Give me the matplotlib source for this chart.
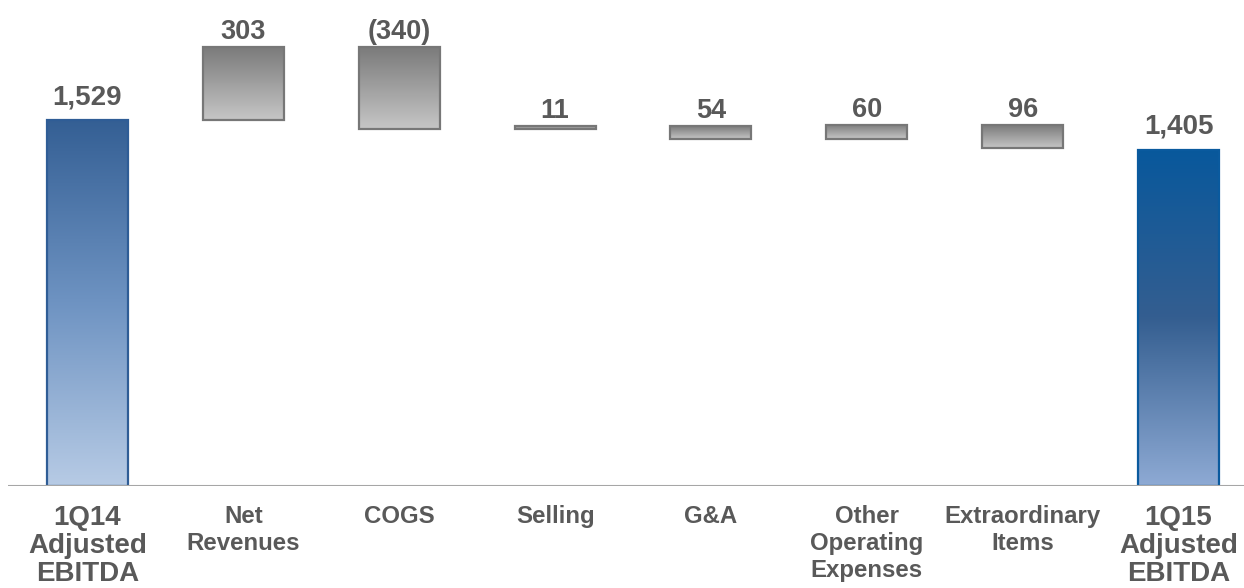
import matplotlib
matplotlib.use("Agg")
import matplotlib.pyplot as plt
import numpy as np
from matplotlib.colors import LinearSegmentedColormap

categories = ["1Q14\nAdjusted\nEBITDA", "Net\nRevenues", "COGS", "Selling", "G&A",
              "Other\nOperating\nExpenses", "Extraordinary\nItems", "1Q15\nAdjusted\nEBITDA"]
start_total = 1529
end_total = 1405
changes = [303, -340, 11, -54, 60, -96]
change_labels = ["303", "(340)", "11", "54", "60", "96"]

plt.rcParams['font.family'] = ['Liberation Sans', 'DejaVu Sans']
txt_color = "#595959"

fig = plt.figure(figsize=(12.44, 5.88), dpi=100)
ax = fig.add_axes([8/1244, 102/588, 1236/1244, 486/588])
ax.set_xlim(-0.51, 7.42)
ax.set_ylim(0, 2030)
ax.set_axis_off()

w = 0.52

def grad_bar(x, y0, y1, stops, edge):
    cmap = LinearSegmentedColormap.from_list("g", stops)
    g = np.linspace(0, 1, 256).reshape(-1, 1)  # 0 = top
    ax.imshow(g, extent=[x - w/2, x + w/2, y0, y1], aspect='auto', cmap=cmap,
              origin='upper', zorder=2, interpolation='bilinear')
    ax.bar(x, y1 - y0, bottom=y0, width=w, facecolor='none', edgecolor=edge,
           linewidth=1.6, zorder=3)

# opening total
grad_bar(0, 0, start_total, ["#345f94", "#6e93c2", "#b7cbe5"], "#2f5d96")
ax.annotate(f"{start_total:,}", (0, start_total), xytext=(0, 7), textcoords='offset points',
            ha='center', va='bottom', fontsize=20, fontweight='bold', color=txt_color)

# floating changes
level = start_total
for i, (c, lab) in enumerate(zip(changes, change_labels)):
    lo, hi = sorted([level, level + c])
    grad_bar(i + 1, lo, hi, ["#7b7b7b", "#a0a0a0", "#c6c6c6"], "#777777")
    ax.annotate(lab, (i + 1, hi), xytext=(0, 1.5), textcoords='offset points',
                ha='center', va='bottom', fontsize=19.5, fontweight='bold', color=txt_color)
    level += c

# closing total
grad_bar(7, 0, end_total, ["#08589c", "#345e90", "#8eaad4"], "#0a5a9e")
ax.annotate(f"{end_total:,}", (7, end_total), xytext=(0, 7), textcoords='offset points',
            ha='center', va='bottom', fontsize=20, fontweight='bold', color=txt_color)

ax.axhline(0, color="#a6a6a6", linewidth=1.5, zorder=4)

for i, cat in enumerate(categories):
    big = i in (0, 7)
    ax.annotate(cat, (i, 0), xytext=(0, -14), textcoords='offset points',
                ha='center', va='top', fontsize=20 if big else 17.3,
                fontweight='bold', color=txt_color,
                linespacing=1.08 if big else 1.22, annotation_clip=False)

fig.savefig("out.png", dpi=100)
